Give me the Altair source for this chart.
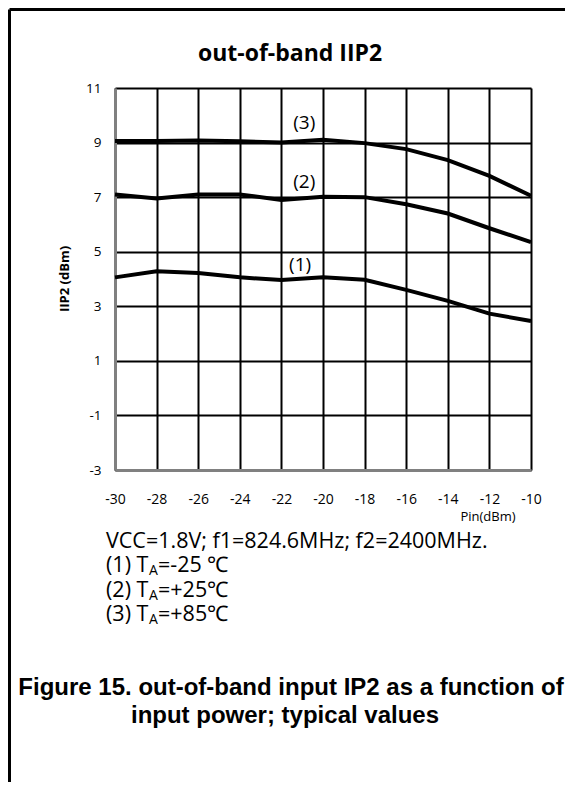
import altair as alt
import pandas as pd

# ---- data ----
pin = [-30, -28, -26, -24, -22, -20, -18, -16, -14, -12, -10]
iip2_m25 = [4.06, 4.28, 4.22, 4.06, 3.96, 4.06, 3.97, 3.60, 3.20, 2.73, 2.46]
iip2_p25 = [7.10, 6.95, 7.10, 7.10, 6.90, 7.01, 7.00, 6.74, 6.40, 5.86, 5.35]
iip2_p85 = [9.06, 9.06, 9.08, 9.05, 9.00, 9.10, 8.98, 8.76, 8.36, 7.78, 7.05]
curve_ids = ["(1)", "(2)", "(3)"]
label_pin = [-21.1, -20.9, -20.9]
label_iip2 = [4.52, 7.56, 9.70]
x_ticks = [-30, -28, -26, -24, -22, -20, -18, -16, -14, -12, -10]
y_ticks = [-3, -1, 1, 3, 5, 7, 9, 11]

rows = []
for cid, series in zip(curve_ids, [iip2_m25, iip2_p25, iip2_p85]):
    for p, v in zip(pin, series):
        rows.append({"curve": cid, "pin": p, "iip2": v})
df = pd.DataFrame(rows)
lab_df = pd.DataFrame({"curve": curve_ids, "pin": label_pin, "iip2": label_iip2})

W, H = 416, 382
FONT = "Open Sans"
xs = alt.Scale(domain=[-30, -10], nice=False, zero=False)
ys = alt.Scale(domain=[-3, 11], nice=False, zero=False)
minus_fix = "replace(datum.label, '\u2212', '-')"

x_axis = alt.Axis(values=x_ticks, title=None, grid=True, gridColor="black", gridWidth=2,
                  gridOpacity=1, domainColor="#808080", domainWidth=3, ticks=False, tickSize=0,
                  labelPadding=22, labelFontSize=14, labelFont=FONT, labelColor="black",
                  labelFlush=False, labelExpr=minus_fix)
y_axis = alt.Axis(values=y_ticks, title=None, grid=True, gridColor="black", gridWidth=2,
                  gridOpacity=1, domainColor="#808080", domainWidth=3, ticks=False, tickSize=0,
                  labelPadding=14, labelFontSize=13.5, labelFont=FONT, labelColor="black",
                  labelFlush=False, labelExpr=minus_fix)

lines = alt.Chart(df).mark_line(color="black", strokeWidth=4).encode(
    x=alt.X("pin:Q", scale=xs, axis=x_axis),
    y=alt.Y("iip2:Q", scale=ys, axis=y_axis),
    detail="curve:N",
)

labels = alt.Chart(lab_df).mark_text(font=FONT, fontSize=19, color="black").encode(
    x=alt.X("pin:Q", scale=xs),
    y=alt.Y("iip2:Q", scale=ys),
    text="curve:N",
)

one = alt.InlineData(values=[{"k": 1}])


def txt(s, x, y, size, bold=False, align="left", font=FONT, angle=0, baseline="middle"):
    kw = dict(font=font, fontSize=size, color="black", align=align, baseline=baseline)
    if bold:
        kw["fontWeight"] = "bold"
    if angle:
        kw["angle"] = angle
    return alt.Chart(one).mark_text(**kw).encode(
        x=alt.value(x), y=alt.value(y), text=alt.value(s))


def frame(x, x2, y, y2):
    return alt.Chart(one).mark_rule(color="black", strokeWidth=3).encode(
        x=alt.value(x), x2=alt.value(x2), y=alt.value(y), y2=alt.value(y2))


FS = 21.5
SUB = 14
texts = [
    txt("out-of-band IIP2", 175, -34, 23, bold=True, align="center"),
    txt("IIP2  (dBm)", -50, 191, 13, bold=True, align="center", angle=270),
    txt("Pin(dBm)", 373, 429, 13, align="center"),
    txt("VCC=1.8V; f1=824.6MHz; f2=2400MHz.", -9, 454, FS),
    txt("(1) T", -9, 478, FS), txt("A", 34, 483, SUB), txt("=-25 \u2103", 43, 478, FS),
    txt("(2) T", -9, 503, FS), txt("A", 34, 508, SUB), txt("=+25\u2103", 43, 503, FS),
    txt("(3) T", -9, 527, FS), txt("A", 34, 532, SUB), txt("=+85\u2103", 43, 527, FS),
    txt("Figure 15. out-of-band input IP2 as a function of", 176, 600, 24, bold=True,
        align="center", font="Liberation Sans"),
    txt("input power; typical values", 170, 628, 24, bold=True,
        align="center", font="Liberation Sans"),
]

frames = [
    frame(-105.5, 460, -78.5, -78.5),
    frame(-105.5, -105.5, -78.5, 700),
]

chart = alt.layer(lines, labels, *texts, *frames).properties(
    width=W, height=H,
    autosize=alt.AutoSizeParams(type="none"),
    padding={"left": 107, "top": 80, "right": 34, "bottom": 312},
).configure_view(stroke="black", strokeWidth=4).configure(background="white")

chart.save("out.html", embed_options={"renderer": "svg", "actions": False})
